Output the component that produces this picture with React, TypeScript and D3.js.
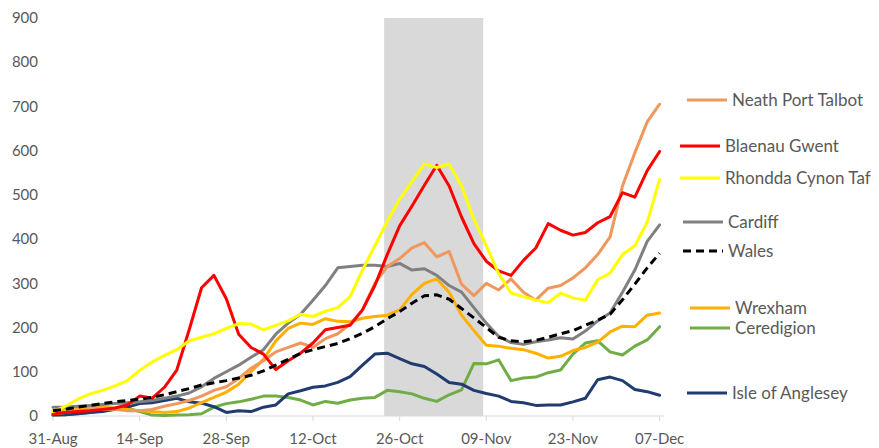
import React from 'react'
import * as d3 from 'd3'

// every other day, 31-Aug .. 07-Dec 2020
const startDay = new Date(Date.UTC(2020, 7, 31))
const endDay = new Date(Date.UTC(2020, 11, 7))
const dates = d3.utcDay.range(startDay, d3.utcDay.offset(endDay, 1), 2)

const xTickLabels = ['31-Aug', '14-Sep', '28-Sep', '12-Oct', '26-Oct', '09-Nov', '23-Nov', '07-Dec']
const yTicks = [0, 100, 200, 300, 400, 500, 600, 700, 800, 900]

// Welsh firebreak (shaded)
const firebreakFirst = new Date(Date.UTC(2020, 9, 24))
const firebreakLast = new Date(Date.UTC(2020, 10, 8))

const neathPortTalbot = [5, 8, 12, 15, 15, 15, 12, 12, 15, 22, 28, 35, 45, 58, 66, 85, 108, 125, 145, 155, 165, 155, 175, 186, 208, 240, 300, 338, 356, 380, 392, 360, 372, 298, 272, 300, 285, 310, 280, 262, 289, 295, 312, 335, 365, 405, 520, 595, 665, 705]
const blaenauGwent = [5, 8, 10, 12, 15, 18, 25, 45, 40, 65, 104, 195, 290, 318, 265, 185, 155, 140, 105, 125, 142, 165, 195, 200, 205, 240, 295, 365, 430, 475, 522, 567, 520, 450, 390, 350, 328, 318, 352, 380, 435, 420, 409, 415, 437, 451, 505, 495, 555, 598]
const rhonddaCynonTaf = [10, 22, 38, 50, 58, 68, 80, 103, 122, 137, 150, 170, 178, 186, 198, 209, 208, 195, 205, 215, 230, 225, 237, 245, 270, 330, 385, 440, 490, 530, 570, 562, 570, 520, 445, 385, 322, 278, 270, 262, 256, 278, 267, 262, 308, 323, 365, 385, 438, 535]
const cardiff = [20, 20, 22, 24, 26, 28, 30, 32, 35, 40, 45, 52, 66, 85, 100, 115, 133, 150, 185, 210, 230, 262, 295, 335, 338, 341, 341, 338, 345, 330, 333, 318, 295, 280, 245, 210, 180, 166, 162, 168, 172, 177, 174, 192, 215, 233, 280, 330, 395, 432]
const wales = [12, 15, 20, 24, 28, 32, 35, 38, 42, 48, 55, 62, 70, 75, 80, 86, 92, 102, 115, 128, 142, 150, 157, 164, 175, 187, 202, 220, 236, 255, 272, 274, 264, 243, 222, 200, 178, 170, 168, 171, 178, 186, 193, 205, 217, 230, 263, 298, 335, 368]
const wrexham = [12, 15, 18, 20, 20, 18, 15, 12, 10, 8, 10, 18, 30, 42, 54, 72, 100, 128, 170, 198, 210, 207, 220, 214, 213, 221, 225, 228, 240, 275, 300, 310, 280, 228, 193, 160, 158, 153, 150, 142, 131, 135, 148, 155, 167, 190, 203, 202, 228, 233]
const ceredigion = [2, 3, 5, 8, 12, 15, 18, 10, 2, 1, 2, 3, 5, 20, 28, 32, 38, 45, 45, 42, 36, 25, 33, 29, 36, 40, 42, 58, 55, 50, 40, 33, 48, 59, 119, 118, 127, 80, 86, 88, 98, 104, 140, 165, 170, 145, 138, 158, 172, 202]
const isleOfAnglesey = [2, 3, 5, 8, 10, 15, 20, 28, 30, 35, 40, 32, 29, 21, 8, 12, 10, 20, 25, 50, 57, 65, 68, 76, 89, 115, 140, 142, 130, 118, 112, 95, 76, 72, 58, 51, 45, 33, 30, 24, 25, 25, 32, 40, 82, 88, 80, 60, 55, 47]

const series = [
  { name: 'Ceredigion', values: ceredigion, color: '#70AD47', dash: '' },
  { name: 'Isle of Anglesey', values: isleOfAnglesey, color: '#203B70', dash: '' },
  { name: 'Wrexham', values: wrexham, color: '#FFB000', dash: '' },
  { name: 'Cardiff', values: cardiff, color: '#808080', dash: '' },
  { name: 'Neath Port Talbot', values: neathPortTalbot, color: '#F0975B', dash: '' },
  { name: 'Blaenau Gwent', values: blaenauGwent, color: '#FF0000', dash: '' },
  { name: 'Rhondda Cynon Taf', values: rhonddaCynonTaf, color: '#FFFF00', dash: '' },
  { name: 'Wales', values: wales, color: '#000000', dash: '8 5' },
]

// hand-placed legend labels, as in the original
const legendLayout = [
  { name: 'Neath Port Talbot', x: 687, y: 100 },
  { name: 'Blaenau Gwent', x: 680, y: 146 },
  { name: 'Rhondda Cynon Taf', x: 680, y: 178 },
  { name: 'Cardiff', x: 683, y: 222 },
  { name: 'Wales', x: 683, y: 251 },
  { name: 'Wrexham', x: 690, y: 308 },
  { name: 'Ceredigion', x: 690, y: 328 },
  { name: 'Isle of Anglesey', x: 687, y: 393 },
]

const W = 879
const H = 448
const font = 'Lato, "Liberation Sans", sans-serif'
const labelColor = '#595959'

const App = () => {
  const x = d3.scaleUtc().domain([startDay, endDay]).range([53, 659.6])
  const y = d3.scaleLinear().domain([0, 900]).range([416, 18])

  const line = d3.line<number>()
    .x((_, i) => x(dates[i]))
    .y(d => y(d))

  const tickDates = d3.utcDay.range(startDay, d3.utcDay.offset(endDay, 1), 14)
  const bandX0 = x(d3.utcHour.offset(firebreakFirst, -12))
  const bandX1 = x(d3.utcHour.offset(firebreakLast, 12))

  return (
    <div>
      <style>{'body{margin:0}'}</style>
      <svg width={W} height={H} style={{ display: 'block', background: '#fff' }} fontFamily={font}>
        {/* firebreak band */}
        <rect x={bandX0} y={y(900)} width={bandX1 - bandX0} height={y(0) - y(900)} fill="#D9D9D9" />

        {/* x axis */}
        <line x1={x(startDay)} x2={x(endDay) + 5} y1={y(0)} y2={y(0)} stroke="#D9D9D9" strokeWidth={1} />
        {tickDates.map((d, i) => (
          <g key={i}>
            <line x1={x(d)} x2={x(d)} y1={y(0)} y2={y(0) + 5} stroke="#D9D9D9" />
            <text x={x(d)} y={444} textAnchor="middle" fontSize={15} fill={labelColor}>{xTickLabels[i]}</text>
          </g>
        ))}

        {/* y labels */}
        {yTicks.map(t => (
          <text key={t} x={38} y={y(t)} dy="0.35em" textAnchor="end" fontSize={15} fill={labelColor}>{t}</text>
        ))}

        {/* series */}
        {series.map(s => (
          <path key={s.name} d={line(s.values) || ''} fill="none" stroke={s.color}
            strokeWidth={3} strokeDasharray={s.dash || undefined} strokeLinejoin="round" strokeLinecap={s.dash ? 'butt' : 'round'} />
        ))}

        {/* legend */}
        {legendLayout.map(l => {
          const s = series.find(d => d.name === l.name)!
          return (
            <g key={l.name}>
              <line x1={l.x} x2={l.x + 40} y1={l.y} y2={l.y} stroke={s.color} strokeWidth={3}
                strokeDasharray={s.dash || undefined} />
              <text x={l.x + 45} y={l.y} dy="0.35em" fontSize={17} fill={labelColor}>{l.name}</text>
            </g>
          )
        })}
      </svg>
    </div>
  )
}

export default App
